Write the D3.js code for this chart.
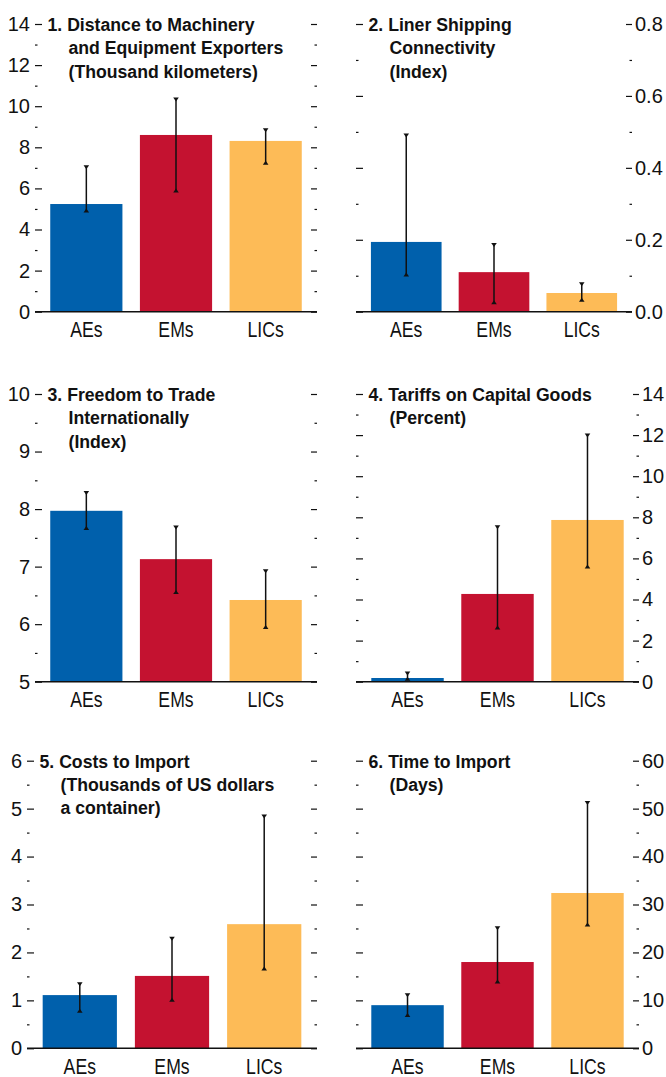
<!DOCTYPE html>
<html>
<head>
<meta charset="utf-8">
<script src="https://cdn.jsdelivr.net/npm/d3@7"></script>
<style>
  html, body { margin: 0; padding: 0; background: #fff; }
  svg { display: block; }
  text { font-family: "Liberation Sans", Arial, sans-serif; fill: #111; }
</style>
</head>
<body>
<svg id="chart" width="666" height="1077"></svg>
<script>
// ---------- DATA ----------
const categories = ["AEs", "EMs", "LICs"];
const barColors = ["#0060AC", "#C41230", "#FDBB57"];

const p1Title = ["1. Distance to Machinery", "and Equipment Exporters", "(Thousand kilometers)"];
const p1Values = [5.24, 8.60, 8.31];
const p1Low = [4.87, 5.84, 7.19];
const p1High = [7.09, 10.38, 8.89];
const p1Ticks = [0, 2, 4, 6, 8, 10, 12, 14];
const p1Minor = [1, 3, 5, 7, 9, 11, 13];

const p2Title = ["2. Liner Shipping", "Connectivity", "(Index)"];
const p2Values = [0.194, 0.110, 0.052];
const p2Low = [0.100, 0.023, 0.030];
const p2High = [0.493, 0.189, 0.080];
const p2Ticks = [0.0, 0.2, 0.4, 0.6, 0.8];
const p2Minor = [0.1, 0.3, 0.5, 0.7];

const p3Title = ["3. Freedom to Trade", "Internationally", "(Index)"];
const p3Values = [7.97, 7.13, 6.42];
const p3Low = [7.65, 6.54, 5.93];
const p3High = [8.30, 7.70, 6.94];
const p3Ticks = [5, 6, 7, 8, 9, 10];
const p3Minor = [5.5, 6.5, 7.5, 8.5, 9.5];

const p4Title = ["4. Tariffs on Capital Goods", "(Percent)"];
const p4Values = [0.18, 4.27, 7.87];
const p4Low = [0.08, 2.58, 5.55];
const p4High = [0.46, 7.58, 12.04];
const p4Ticks = [0, 2, 4, 6, 8, 10, 12, 14];
const p4Minor = [1, 3, 5, 7, 9, 11, 13];

const p5Title = ["5. Costs to Import", "(Thousands of US dollars", "a container)"];
const p5Values = [1.11, 1.51, 2.59];
const p5Low = [0.76, 0.99, 1.64];
const p5High = [1.36, 2.31, 4.86];
const p5Ticks = [0, 1, 2, 3, 4, 5, 6];
const p5Minor = [0.5, 1.5, 2.5, 3.5, 4.5, 5.5];

const p6Title = ["6. Time to Import", "(Days)"];
const p6Values = [9.0, 18.0, 32.4];
const p6Low = [6.7, 13.7, 25.6];
const p6High = [11.3, 25.3, 51.4];
const p6Ticks = [0, 10, 20, 30, 40, 50, 60];
const p6Minor = [5, 15, 25, 35, 45, 55];

// ---------- LAYOUT ----------
const panels = [
  { title: p1Title, values: p1Values, low: p1Low, high: p1High, ticks: p1Ticks, minor: p1Minor, fmt: d3.format("d"),
    x0: 35, x1: 317, top: 24, bottom: 311.7, labelSide: "left" },
  { title: p2Title, values: p2Values, low: p2Low, high: p2High, ticks: p2Ticks, minor: p2Minor, fmt: d3.format(".1f"),
    x0: 356, x1: 632, top: 24, bottom: 311.7, labelSide: "right" },
  { title: p3Title, values: p3Values, low: p3Low, high: p3High, ticks: p3Ticks, minor: p3Minor, fmt: d3.format("d"),
    x0: 35, x1: 317, top: 394, bottom: 681.7, labelSide: "left" },
  { title: p4Title, values: p4Values, low: p4Low, high: p4High, ticks: p4Ticks, minor: p4Minor, fmt: d3.format("d"),
    x0: 356, x1: 639, top: 394, bottom: 681.7, labelSide: "right" },
  { title: p5Title, values: p5Values, low: p5Low, high: p5High, ticks: p5Ticks, minor: p5Minor, fmt: d3.format("d"),
    x0: 27, x1: 317, top: 760.7, bottom: 1048.3, labelSide: "left" },
  { title: p6Title, values: p6Values, low: p6Low, high: p6High, ticks: p6Ticks, minor: p6Minor, fmt: d3.format("d"),
    x0: 356, x1: 639, top: 760.7, bottom: 1048.3, labelSide: "right" }
];

const svg = d3.select("#chart");

panels.forEach(p => {
  const g = svg.append("g");
  const dom = [p.ticks[0], p.ticks[p.ticks.length - 1]];
  const y = d3.scaleLinear().domain(dom).range([p.bottom, p.top]);
  const x = d3.scaleBand().domain(categories).range([p.x0, p.x1]).paddingInner(0.195).paddingOuter(0.17);

  // bars
  g.selectAll("rect.bar").data(categories).enter().append("rect")
    .attr("class", "bar")
    .attr("x", d => x(d))
    .attr("width", x.bandwidth())
    .attr("y", (d, i) => y(p.values[i]))
    .attr("height", (d, i) => y(dom[0]) - y(p.values[i]))
    .attr("fill", (d, i) => barColors[i]);

  // axes: left and right, major & minor
  const mkAxis = (side, vals, size, labeled) => {
    const ax = (side === "left" ? d3.axisLeft(y) : d3.axisRight(y))
      .tickValues(vals)
      .tickSizeInner(-size)
      .tickSizeOuter(0)
      .tickPadding(side === "left" ? 5 : 3)
      .tickFormat(labeled ? p.fmt : () => "");
    const ag = g.append("g")
      .attr("transform", `translate(${side === "left" ? p.x0 : p.x1},0)`)
      .call(ax);
    ag.select(".domain").remove();
    ag.selectAll(".tick line").attr("stroke", "#111").attr("stroke-width", 1.2);
    ag.selectAll(".tick text")
      .style("font-family", '"Liberation Sans", Arial, sans-serif')
      .style("font-size", "20px")
      .attr("fill", "#111");
    return ag;
  };
  mkAxis("left", p.ticks, 7, p.labelSide === "left");
  mkAxis("left", p.minor, 2.5, false);
  mkAxis("right", p.ticks, 6, p.labelSide === "right");
  mkAxis("right", p.minor, 2.5, false);

  // baseline
  g.append("line")
    .attr("x1", p.x0).attr("x2", p.x1)
    .attr("y1", y(dom[0])).attr("y2", y(dom[0]))
    .attr("stroke", "#111").attr("stroke-width", 1.6);

  // error bars
  const eb = g.selectAll("g.err").data(categories).enter().append("g").attr("class", "err");
  eb.append("line")
    .attr("x1", d => x(d) + x.bandwidth() / 2)
    .attr("x2", d => x(d) + x.bandwidth() / 2)
    .attr("y1", (d, i) => y(p.high[i]))
    .attr("y2", (d, i) => y(p.low[i]))
    .attr("stroke", "#111").attr("stroke-width", 1.5);
  eb.append("path")
    .attr("d", (d, i) => {
      const cx = x(d) + x.bandwidth() / 2, cy = y(p.high[i]);
      return `M${cx - 2.8},${cy - 0.8}L${cx + 2.8},${cy - 0.8}L${cx},${cy + 3.2}Z`;
    })
    .attr("fill", "#111");
  eb.append("path")
    .attr("d", (d, i) => {
      const cx = x(d) + x.bandwidth() / 2, cy = y(p.low[i]);
      return `M${cx - 2.8},${cy + 0.8}L${cx + 2.8},${cy + 0.8}L${cx},${cy - 3.2}Z`;
    })
    .attr("fill", "#111");

  // category labels (condensed)
  g.selectAll("text.cat").data(categories).enter().append("text")
    .attr("class", "cat")
    .attr("transform", d => `translate(${x(d) + x.bandwidth() / 2},${y(dom[0]) + 25.5}) scale(0.82,1)`)
    .attr("text-anchor", "middle")
    .style("font-size", "21.5px")
    .text(d => d);

  // title (bold condensed)
  const tx = p.x0 + 12.5;
  g.selectAll("text.title").data(p.title).enter().append("text")
    .attr("class", "title")
    .attr("transform", (d, i) => `translate(${i === 0 ? tx : tx + 21},${p.top + 6.8 + i * 23.4}) scale(0.93,1)`)
    .style("font-size", "19px")
    .style("font-weight", "bold")
    .text(d => d);
});
</script>
</body>
</html>
